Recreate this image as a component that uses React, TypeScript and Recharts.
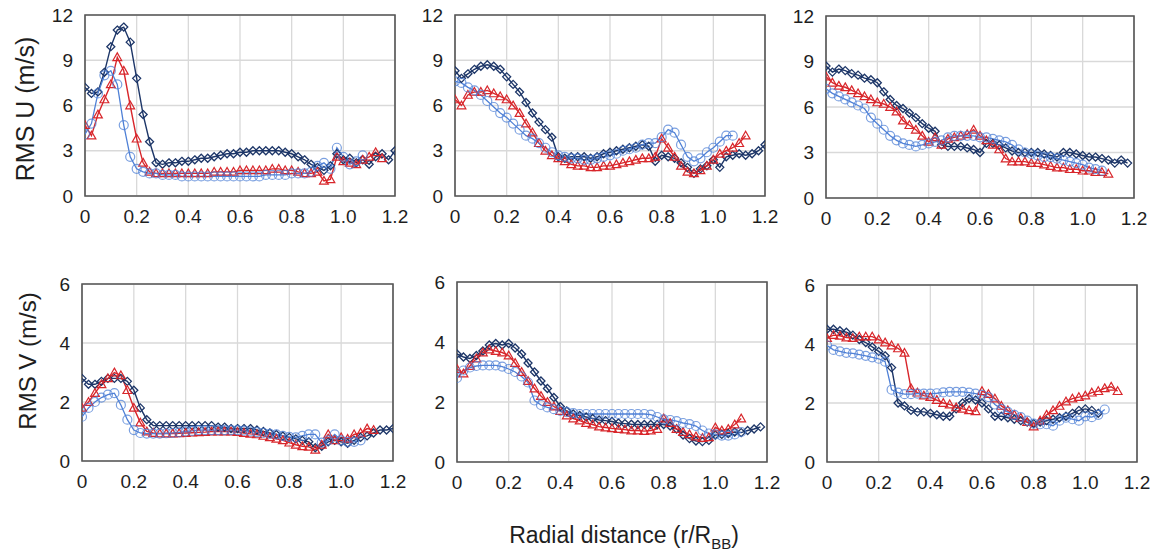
import { CartesianGrid, Line, LineChart, ReferenceArea, XAxis, YAxis } from "recharts"

// radial positions r/R_BB shared by every series (a series simply stops early)
const X = [
  0, 0.025, 0.05, 0.075, 0.1, 0.125, 0.15, 0.175, 0.2, 0.225, 0.25, 0.275, 0.3, 0.325, 0.35, 0.375,
  0.4, 0.425, 0.45, 0.475, 0.5, 0.525, 0.55, 0.575, 0.6, 0.625, 0.65, 0.675, 0.7, 0.725, 0.75,
  0.775, 0.8, 0.825, 0.85, 0.875, 0.9, 0.925, 0.95, 0.975, 1.0, 1.025, 1.05, 1.075, 1.1, 1.125,
  1.15, 1.175, 1.2,
]
const X_TICKS = [0, 0.2, 0.4, 0.6, 0.8, 1.0, 1.2]
const U_TICKS = [0, 3, 6, 9, 12]
const V_TICKS = [0, 2, 4, 6]

// RMS U, left column
const U1_DARK = [
  7.2, 6.8, 6.9, 8.2, 9.9, 11.0, 11.2, 10.2, 7.8, 5.4, 3.6, 2.2, 2.1, 2.2, 2.2, 2.3, 2.3, 2.4, 2.5,
  2.5, 2.6, 2.7, 2.8, 2.8, 2.9, 2.9, 3.0, 3.0, 3.0, 3.0, 3.0, 2.9, 2.8, 2.6, 2.4, 2.1, 1.9, 1.7,
  2.0, 2.8, 2.4, 2.5, 2.2, 2.4, 2.1, 2.6, 2.8, 2.4, 3.0,
]
const U1_RED = [
  4.7, 4.0, 5.4, 6.4, 7.4, 9.2, 8.3, 6.0, 3.8, 2.2, 1.6, 1.5, 1.5, 1.5, 1.5, 1.5, 1.5, 1.5, 1.5,
  1.5, 1.6, 1.6, 1.6, 1.6, 1.7, 1.7, 1.7, 1.7, 1.7, 1.8, 1.8, 1.7, 1.7, 1.6, 1.5, 1.5, 1.6, 1.0,
  1.1, 2.6, 2.3, 2.2, 2.1, 2.4, 2.6, 2.9, 2.5,
]
const U1_LIGHT = [
  4.1, 4.8, 6.8, 8.0, 8.3, 7.4, 4.7, 2.6, 1.8, 1.6, 1.5, 1.5, 1.4, 1.4, 1.4, 1.3, 1.3, 1.3, 1.3,
  1.3, 1.3, 1.3, 1.3, 1.3, 1.3, 1.3, 1.3, 1.3, 1.4, 1.4, 1.4, 1.4, 1.5, 1.5, 1.5, 1.6, 2.0, 2.2,
  1.8, 3.2, 2.6, 2.1, 2.3, 2.7,
]

// RMS U, middle column
const U2_DARK = [
  8.3, 7.8, 8.1, 8.4, 8.6, 8.7, 8.6, 8.4, 7.9, 7.4, 6.9, 6.2, 5.5, 4.9, 4.4, 3.9, 2.6, 2.5, 2.6,
  2.6, 2.6, 2.5, 2.6, 2.8, 2.9, 3.0, 3.1, 3.2, 3.3, 3.4, 3.3, 2.3, 2.7, 2.6, 2.5, 2.2, 1.9, 1.5,
  1.8, 2.0, 2.4, 1.9, 2.6, 2.7, 2.8, 2.7, 2.8, 3.0, 3.4,
]
const U2_RED = [
  6.4, 6.0, 6.7, 6.9, 6.9, 7.0, 6.8, 6.6, 6.4, 6.0, 5.5, 4.8, 4.2, 3.5, 3.0, 2.7, 2.5, 2.3, 2.1,
  2.0, 2.0, 1.9, 1.9, 2.0, 2.0, 2.1, 2.2, 2.3, 2.4, 2.5, 2.5, 2.6, 3.8, 3.2, 2.6, 2.0, 1.6, 1.5,
  1.7, 2.0, 2.4, 2.8, 3.0, 3.2, 3.5, 4.0,
]
const U2_LIGHT = [
  7.6, 7.5, 7.2, 7.0, 6.7, 6.3, 5.9, 5.5, 5.2, 4.8, 4.4, 4.0, 3.8, 3.5, 3.2, 2.9, 2.7, 2.6, 2.5,
  2.5, 2.4, 2.4, 2.5, 2.6, 2.7, 2.8, 3.0, 3.1, 3.2, 3.4, 3.5, 3.5, 3.9, 4.4, 4.2, 3.4, 2.6, 2.3,
  2.5, 2.9, 3.2, 3.6, 4.0, 4.0,
]

// RMS U, right column
const U3_DARK = [
  8.7, 8.3, 8.5, 8.4, 8.2, 8.1, 7.9, 7.8, 7.6, 7.0, 6.5, 6.1, 5.9, 5.6, 5.3, 4.9, 4.6, 4.4, 3.5,
  3.4, 3.4, 3.4, 3.3, 3.2, 3.0, 3.6, 3.6, 3.5, 3.3, 3.1, 3.0, 3.0, 3.0, 3.0, 2.9, 2.8, 2.7, 3.0,
  3.0, 2.9, 2.8, 2.7, 2.7, 2.6, 2.5, 2.3, 2.5, 2.3,
]
const U3_RED = [
  8.0, 7.6, 7.4, 7.3, 7.1, 6.9, 6.7, 6.5, 6.3, 6.2, 6.0, 5.7, 5.1, 4.8, 4.5, 4.1, 3.7, 4.0, 3.5,
  3.9, 4.0, 4.1, 4.2, 4.5, 4.1, 3.8, 3.5, 3.2, 2.6, 2.4, 2.4, 2.4, 2.3, 2.3, 2.2, 2.1, 2.0, 2.0,
  1.9, 1.9, 1.8, 1.8, 1.7, 1.7, 1.6,
]
const U3_LIGHT = [
  7.2, 6.9, 6.7, 6.5, 6.3, 6.1, 5.9, 5.3, 4.9, 4.5, 4.1, 3.8, 3.6, 3.5, 3.4, 3.5, 3.6, 3.7, 3.8,
  4.0, 4.1, 4.1, 4.1, 4.1, 4.0, 4.0, 3.9, 3.8, 3.7, 3.5, 3.2, 3.0, 2.9, 2.8, 2.7, 2.7, 2.6, 2.5,
  2.4, 2.3, 2.2, 2.0, 1.9, 1.8,
]

// RMS V, left column
const V1_DARK = [
  2.8, 2.6, 2.6, 2.7, 2.8, 2.8, 2.8, 2.7, 2.4, 1.8, 1.4, 1.2, 1.2, 1.2, 1.2, 1.2, 1.2, 1.2, 1.2,
  1.2, 1.2, 1.15, 1.15, 1.1, 1.1, 1.1, 1.1, 1.05, 1.0, 0.95, 0.9, 0.85, 0.8, 0.75, 0.7, 0.65, 0.45,
  0.5, 0.65, 0.7, 0.65, 0.6, 0.7, 0.8, 0.85, 0.95, 1.05, 1.05, 1.1,
]
const V1_RED = [
  1.8, 2.0, 2.3, 2.6, 2.8, 3.0, 2.9, 2.4, 1.8, 1.3, 1.0, 0.95, 0.93, 0.93, 0.93, 0.94, 0.95, 0.96,
  0.97, 0.98, 1.0, 1.0, 1.0, 1.0, 0.98, 0.95, 0.92, 0.9, 0.85, 0.8, 0.75, 0.7, 0.62, 0.55, 0.5,
  0.48, 0.38, 0.55, 0.9, 0.7, 0.8, 0.75, 0.9, 0.95, 1.1, 1.05,
]
const V1_LIGHT = [
  1.5, 1.8, 2.0, 2.15, 2.25, 2.3, 1.9, 1.4, 1.05, 0.95, 0.93, 0.93, 0.93, 0.94, 0.95, 0.97, 1.0,
  1.02, 1.05, 1.05, 1.05, 1.05, 1.05, 1.05, 1.05, 1.03, 1.0, 0.98, 0.95, 0.92, 0.9, 0.85, 0.82,
  0.8, 0.85, 0.9, 0.9, 0.62, 0.7, 0.9, 0.7, 0.65, 0.65, 0.7,
]

// RMS V, middle column
const V2_DARK = [
  3.6, 3.5, 3.45, 3.55, 3.7, 3.9, 3.95, 3.9, 3.95, 3.8, 3.6, 3.3, 3.0, 2.7, 2.45, 2.15, 1.85, 1.7,
  1.6, 1.55, 1.5, 1.45, 1.4, 1.38, 1.35, 1.3, 1.28, 1.26, 1.25, 1.25, 1.25, 1.25, 1.25, 1.2, 1.1,
  0.9, 0.78, 0.7, 0.68, 0.72, 0.9, 0.92, 0.95, 1.0, 0.98, 1.05, 1.1, 1.17,
]
const V2_RED = [
  3.1, 2.95, 3.2, 3.45, 3.65, 3.75, 3.7, 3.65, 3.55, 3.3, 3.0, 2.7, 2.45, 2.2, 2.0, 1.85, 1.7,
  1.55, 1.45, 1.38, 1.3, 1.25, 1.18, 1.15, 1.12, 1.1, 1.08, 1.05, 1.05, 1.03, 1.05, 1.1, 1.45, 1.3,
  1.1, 1.0, 0.92, 0.85, 0.8, 0.82, 1.15, 1.05, 1.1, 1.25, 1.45,
]
const V2_LIGHT = [
  2.8, 3.05, 3.15, 3.2, 3.22, 3.22, 3.22, 3.18, 3.1, 3.0, 2.85, 2.65, 2.05, 1.9, 1.82, 1.76, 1.7,
  1.66, 1.63, 1.6, 1.6, 1.6, 1.6, 1.6, 1.6, 1.6, 1.6, 1.6, 1.6, 1.6, 1.58, 1.5, 1.42, 1.4, 1.36,
  1.3, 1.26, 1.2, 1.05, 0.95, 0.92, 0.88, 0.88, 0.92, 1.0,
]

// RMS V, right column
const V3_DARK = [
  4.5, 4.5, 4.45, 4.4, 4.3, 4.15, 4.05, 3.9, 3.75, 3.6, 3.2, 2.0, 1.9, 1.75, 1.7, 1.7, 1.65, 1.6,
  1.55, 1.55, 1.8, 2.0, 2.15, 2.1, 2.0, 1.8, 1.55, 1.55, 1.5, 1.45, 1.4, 1.35, 1.3, 1.35, 1.4,
  1.45, 1.5, 1.55, 1.65, 1.75, 1.8, 1.75, 1.65,
]
const V3_RED = [
  4.2, 4.3, 4.28, 4.22, 4.2, 4.25, 4.25, 4.25, 4.15, 4.05, 3.95, 3.85, 3.7, 2.5, 2.35, 2.25, 2.2,
  2.1, 2.0, 1.95, 1.85, 1.8, 1.75, 1.72, 2.4, 2.3, 2.15, 1.9, 1.75, 1.6, 1.5, 1.35, 1.2, 1.4, 1.6,
  1.75, 1.9, 2.05, 2.15, 2.2, 2.25, 2.35, 2.4, 2.5, 2.55, 2.4,
]
const V3_LIGHT = [
  3.95, 3.8, 3.75, 3.7, 3.68, 3.64, 3.6, 3.55, 3.5, 3.4, 2.45, 2.35, 2.3, 2.3, 2.32, 2.32, 2.32,
  2.33, 2.36, 2.38, 2.38, 2.38, 2.35, 2.32, 2.28, 2.2, 1.95, 1.8, 1.7, 1.6, 1.52, 1.4, 1.3, 1.28,
  1.28, 1.23, 1.4, 1.5, 1.45, 1.4, 1.55, 1.52, 1.6, 1.78,
]

const DARK = "#1d3668"
const RED = "#d8262b"
const LIGHT = "#4f80d6"
const TEXT = "#1e1e1e"
const FONT = "Arial, 'Liberation Sans', Helvetica, sans-serif"

const YW = 52
const MT = 16
const MR = 22
const XH = 36

type Dot = { cx?: number; cy?: number; index?: number; value?: unknown }

function diamond(p: Dot) {
  const { cx, cy } = p
  if (cx == null || cy == null || p.value == null) return <g key={`d${p.index}`} />
  const s = 4
  return (
    <path
      key={`d${p.index}`}
      d={`M${cx},${cy - s}L${cx + s},${cy}L${cx},${cy + s}L${cx - s},${cy}Z`}
      fill="none"
      stroke={DARK}
      strokeWidth={1.3}
    />
  )
}

function triangle(p: Dot) {
  const { cx, cy } = p
  if (cx == null || cy == null || p.value == null) return <g key={`t${p.index}`} />
  const s = 4.4
  return (
    <path
      key={`t${p.index}`}
      d={`M${cx},${cy - s}L${cx + s},${cy + s * 0.75}L${cx - s},${cy + s * 0.75}Z`}
      fill="none"
      stroke={RED}
      strokeWidth={1.2}
    />
  )
}

function circle(p: Dot) {
  const { cx, cy } = p
  if (cx == null || cy == null || p.value == null) return <g key={`c${p.index}`} />
  return (
    <circle
      key={`c${p.index}`}
      cx={cx}
      cy={cy}
      r={4.5}
      fill="none"
      stroke={LIGHT}
      strokeOpacity={0.75}
      strokeWidth={1.2}
    />
  )
}

interface PanelProps {
  left: number
  top: number
  w: number
  h: number
  yMax: number
  yTicks: number[]
  dark: number[]
  red: number[]
  light: number[]
}

function Panel({ left, top, w, h, yMax, yTicks, dark, red, light }: PanelProps) {
  const data = X.map((x, i) => ({ x, dark: dark[i], red: red[i], light: light[i] }))
  const tick = { fontSize: 19, fill: TEXT, fontFamily: FONT }
  return (
    <div style={{ position: "absolute", left: left - YW, top: top - MT }}>
      <LineChart
        width={w + YW + MR}
        height={h + MT + XH}
        data={data}
        margin={{ top: MT, right: MR, bottom: 0, left: 0 }}
      >
        <CartesianGrid stroke="#d9d9d9" strokeWidth={1.3} />
        <XAxis
          type="number"
          dataKey="x"
          domain={[0, 1.2]}
          ticks={X_TICKS}
          tickFormatter={(v: number) => (v === 0 ? "0" : v.toFixed(1))}
          tick={tick}
          tickLine={false}
          axisLine={false}
          tickSize={0}
          tickMargin={14}
          height={XH}
          interval={0}
          allowDataOverflow
        />
        <YAxis
          type="number"
          domain={[0, yMax]}
          ticks={yTicks}
          tick={tick}
          tickLine={false}
          axisLine={false}
          tickSize={0}
          tickMargin={12}
          width={YW}
          interval={0}
        />
        <ReferenceArea x1={0} x2={1.2} y1={0} y2={yMax} fill="none" stroke="#555" strokeWidth={1.6} />
        <Line
          dataKey="dark"
          stroke={DARK}
          strokeWidth={1.4}
          dot={diamond}
          activeDot={false}
          isAnimationActive={false}
        />
        <Line
          dataKey="red"
          stroke={RED}
          strokeWidth={1.4}
          dot={triangle}
          activeDot={false}
          isAnimationActive={false}
        />
        <Line
          dataKey="light"
          stroke={LIGHT}
          strokeWidth={1.3}
          dot={circle}
          activeDot={false}
          isAnimationActive={false}
        />
      </LineChart>
    </div>
  )
}

export default function App() {
  return (
    <div
      style={{
        position: "absolute",
        left: 0,
        top: 0,
        width: 1155,
        height: 552,
        background: "#fff",
        fontFamily: FONT,
        color: TEXT,
      }}
    >
      <Panel left={85} top={15} w={310} h={181} yMax={12} yTicks={U_TICKS} dark={U1_DARK} red={U1_RED} light={U1_LIGHT} />
      <Panel left={455} top={15} w={310} h={181} yMax={12} yTicks={U_TICKS} dark={U2_DARK} red={U2_RED} light={U2_LIGHT} />
      <Panel left={826} top={16} w={308} h={182} yMax={12} yTicks={U_TICKS} dark={U3_DARK} red={U3_RED} light={U3_LIGHT} />
      <Panel left={82} top={284} w={311} h={177} yMax={6} yTicks={V_TICKS} dark={V1_DARK} red={V1_RED} light={V1_LIGHT} />
      <Panel left={457} top={282} w={310} h={180} yMax={6} yTicks={V_TICKS} dark={V2_DARK} red={V2_RED} light={V2_LIGHT} />
      <Panel left={827} top={285} w={310} h={177} yMax={6} yTicks={V_TICKS} dark={V3_DARK} red={V3_RED} light={V3_LIGHT} />

      <div
        style={{
          position: "absolute",
          left: 25,
          top: 109,
          transform: "translate(-50%, -50%) rotate(-90deg)",
          whiteSpace: "nowrap",
          fontSize: 25,
        }}
      >
        RMS U (m/s)
      </div>
      <div
        style={{
          position: "absolute",
          left: 28,
          top: 361,
          transform: "translate(-50%, -50%) rotate(-90deg)",
          whiteSpace: "nowrap",
          fontSize: 24,
        }}
      >
        RMS V (m/s)
      </div>
      <div
        style={{
          position: "absolute",
          left: 624,
          top: 537,
          transform: "translate(-50%, -50%)",
          whiteSpace: "nowrap",
          fontSize: 23,
        }}
      >
        Radial distance (r/R<sub style={{ fontSize: 15 }}>BB</sub>)
      </div>
    </div>
  )
}
